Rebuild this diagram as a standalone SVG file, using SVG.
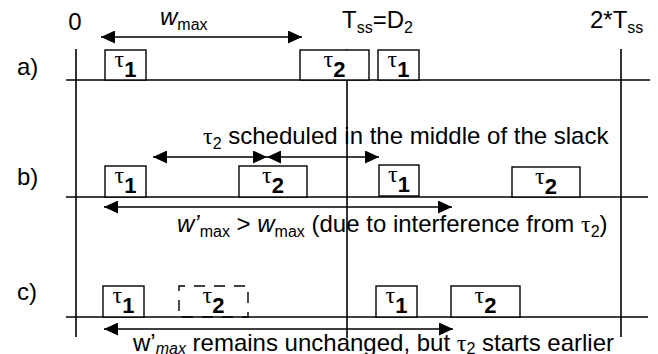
<svg xmlns="http://www.w3.org/2000/svg" width="658" height="354" viewBox="0 0 658 354">
<defs>
<marker id="ah" markerWidth="14" markerHeight="13" refX="14" refY="6.5" orient="auto-start-reverse" markerUnits="userSpaceOnUse"><path d="M0,0 L14,6.5 L0,13 z" fill="#000"/></marker>
<style>
.ln{stroke:#000;stroke-width:1.6;fill:none}
.bx{stroke:#000;stroke-width:1.4;fill:#fff}
.dbx{stroke:#000;stroke-width:1.4;fill:none;stroke-dasharray:11 9;stroke-dashoffset:5}
.ar{stroke:#000;stroke-width:1.6;fill:none;marker-start:url(#ah);marker-end:url(#ah)}
text{font-family:"Liberation Sans",Arial,sans-serif;font-size:24px;fill:#000}
.tau{font-family:"Liberation Serif","DejaVu Serif",serif}
.sub{font-size:16px}
.bsub{font-size:22px;font-weight:bold}
.it{font-style:italic}
</style>
</defs>
<rect width="658" height="354" fill="#fff"/>
<g id="axes">
<line class="ln" x1="76" y1="49" x2="76" y2="337"/>
<line class="ln" x1="347" y1="49" x2="347" y2="338"/>
<line class="ln" x1="621" y1="49" x2="621" y2="337"/>
<line class="ln" x1="66" y1="80" x2="650" y2="80"/>
<line class="ln" x1="66" y1="197" x2="648" y2="197"/>
<line class="ln" x1="66" y1="317" x2="648" y2="317"/>
</g>
<g id="labels">
<text x="75" y="30" text-anchor="middle">0</text>
<text x="17" y="75">a)</text>
<text x="17" y="185">b)</text>
<text x="17" y="300">c)</text>
<text x="342" y="28">T<tspan class="sub" dy="5">ss</tspan><tspan dy="-5">=D</tspan><tspan class="sub" dy="5">2</tspan></text>
<text x="590" y="28">2*T<tspan class="sub" dy="5">ss</tspan></text>
</g>
<g id="a-tau1"><rect class="bx" x="105" y="50" width="41" height="30"/><text x="125.5" y="67" text-anchor="middle"><tspan class="tau">τ</tspan><tspan class="bsub" dy="10">1</tspan></text></g>
<g id="a-tau2"><rect class="bx" x="300" y="50" width="69" height="30"/><text x="334.5" y="67" text-anchor="middle"><tspan class="tau">τ</tspan><tspan class="bsub" dy="10">2</tspan></text></g>
<g id="a-tau1b"><rect class="bx" x="378" y="50" width="41" height="30"/><text x="398.5" y="67" text-anchor="middle"><tspan class="tau">τ</tspan><tspan class="bsub" dy="10">1</tspan></text></g>
<g id="b-tau1"><rect class="bx" x="105" y="166" width="41" height="31"/><text x="125.5" y="183" text-anchor="middle"><tspan class="tau">τ</tspan><tspan class="bsub" dy="10">1</tspan></text></g>
<g id="b-tau2"><rect class="bx" x="239" y="166" width="68" height="31"/><text x="273" y="183" text-anchor="middle"><tspan class="tau">τ</tspan><tspan class="bsub" dy="10">2</tspan></text></g>
<g id="b-tau1b"><rect class="bx" x="379" y="165" width="40" height="31"/><text x="399" y="182" text-anchor="middle"><tspan class="tau">τ</tspan><tspan class="bsub" dy="10">1</tspan></text></g>
<g id="b-tau2b"><rect class="bx" x="512" y="167" width="68" height="30"/><text x="546" y="184" text-anchor="middle"><tspan class="tau">τ</tspan><tspan class="bsub" dy="10">2</tspan></text></g>
<g id="c-tau1"><rect class="bx" x="103" y="286" width="41" height="31"/><text x="123.5" y="303" text-anchor="middle"><tspan class="tau">τ</tspan><tspan class="bsub" dy="10">1</tspan></text></g>
<g id="c-tau2dash"><rect class="dbx" x="179" y="286" width="69" height="31"/><text x="213.5" y="303" text-anchor="middle"><tspan class="tau">τ</tspan><tspan class="bsub" dy="10">2</tspan></text></g>
<g id="c-tau1b"><rect class="bx" x="376" y="286" width="41" height="31"/><text x="396.5" y="303" text-anchor="middle"><tspan class="tau">τ</tspan><tspan class="bsub" dy="10">1</tspan></text></g>
<g id="c-tau2b"><rect class="bx" x="451" y="286" width="69" height="31"/><text x="485.5" y="303" text-anchor="middle"><tspan class="tau">τ</tspan><tspan class="bsub" dy="10">2</tspan></text></g>
<g id="connectors">
<line class="ar" x1="101" y1="37" x2="302" y2="37"/>
<line class="ar" x1="153" y1="157" x2="267" y2="157"/>
<line class="ar" x1="267" y1="157" x2="379" y2="157"/>
<line class="ar" x1="104" y1="207" x2="452" y2="207"/>
<line class="ar" x1="104" y1="329" x2="453" y2="329"/>
</g>
<g id="annotations">
<text x="160" y="25"><tspan class="it">w</tspan><tspan class="sub" dy="5">max</tspan></text>
<text x="203" y="144"><tspan class="tau">τ</tspan><tspan class="sub" dy="5">2</tspan><tspan dy="-5"> scheduled in the middle of the slack</tspan></text>
<text x="177" y="232"><tspan class="it">w’</tspan><tspan class="sub" dy="5">max</tspan><tspan dy="-5"> &gt; </tspan><tspan class="it">w</tspan><tspan class="sub" dy="5">max</tspan><tspan dy="-5"> (due to interference from </tspan><tspan class="tau">τ</tspan><tspan class="sub" dy="5">2</tspan><tspan dy="-5">)</tspan></text>
<text x="133" y="351">w’<tspan class="sub it" dy="3">max</tspan><tspan dy="-3"> remains unchanged, but </tspan><tspan class="tau">τ</tspan><tspan class="sub" dy="3">2</tspan><tspan dy="-3"> starts earlier</tspan></text>
</g>
</svg>
